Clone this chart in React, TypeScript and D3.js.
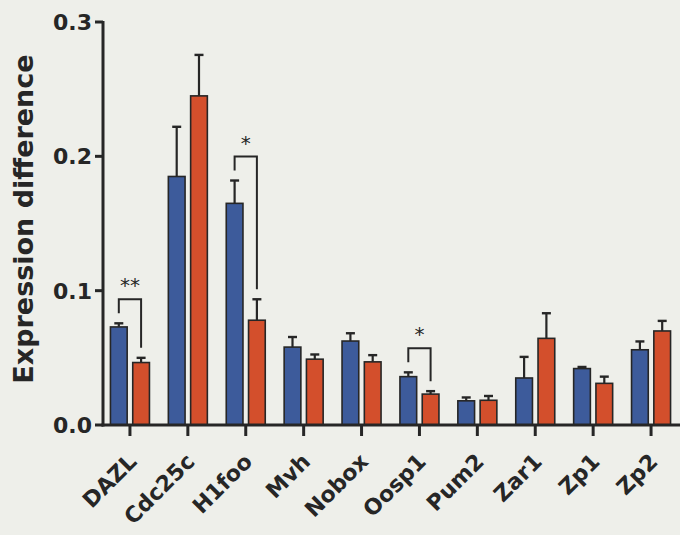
import React from 'react';
import * as d3 from 'd3';

const genes = ['DAZL', 'Cdc25c', 'H1foo', 'Mvh', 'Nobox', 'Oosp1', 'Pum2', 'Zar1', 'Zp1', 'Zp2'];
const blueMean = [0.073, 0.185, 0.165, 0.058, 0.0625, 0.036, 0.018, 0.035, 0.042, 0.056];
const blueErr = [0.0027, 0.037, 0.017, 0.0075, 0.0058, 0.0032, 0.0025, 0.0157, 0.0012, 0.0062];
const redMean = [0.0465, 0.245, 0.078, 0.049, 0.047, 0.023, 0.0184, 0.0645, 0.031, 0.070];
const redErr = [0.0035, 0.0305, 0.0156, 0.0035, 0.005, 0.0022, 0.0032, 0.0187, 0.005, 0.0075];
const yTicks = [0.0, 0.1, 0.2, 0.3];
// significance marks: gene and label
const sigGenes = ['DAZL', 'H1foo', 'Oosp1'];
const sigLabels = ['**', '*', '*'];

const W = 680;
const H = 535;
const font = '"DejaVu Sans", Verdana, sans-serif';
const ink = '#262626';

const App = () => {
    const y = d3.scaleLinear().domain([0, 0.3]).range([425, 22]);
    const x = d3.scaleBand().domain(genes).range([101, 680]).paddingInner(0).paddingOuter(0);
    const xs = d3.scaleBand().domain(['blue', 'red']).range([-19.5, 19.5]).paddingInner(0.25);
    const cx = (g) => x(g) + x.bandwidth() / 2;
    const bw = xs.bandwidth();

    const series = [
        { key: 'blue', mean: blueMean, err: blueErr, fill: '#3d5b9b' },
        { key: 'red', mean: redMean, err: redErr, fill: '#d34f2c' }
    ];

    return (
        <svg width={W} height={H} style={{ position: 'absolute', left: 0, top: 0, display: 'block' }}>
            <rect x={0} y={0} width={W} height={H} fill="#eeefea" />

            {/* y axis title */}
            <text transform="translate(33,219) rotate(-90)" textAnchor="middle"
                fontFamily={font} fontWeight="bold" fontSize={27} fill={ink}>Expression difference</text>

            {/* bars + error bars */}
            {series.map(s => (
                <g key={s.key}>
                    {genes.map((g, i) => {
                        const left = cx(g) + xs(s.key);
                        const mid = left + bw / 2;
                        return (
                            <g key={g}>
                                <line x1={mid} x2={mid} y1={y(s.mean[i])} y2={y(s.mean[i] + s.err[i])} stroke={ink} strokeWidth={2.2} />
                                <line x1={mid - 4.5} x2={mid + 4.5} y1={y(s.mean[i] + s.err[i])} y2={y(s.mean[i] + s.err[i])} stroke={ink} strokeWidth={2.4} />
                                <rect x={left} y={y(s.mean[i])} width={bw} height={y(0) - y(s.mean[i])}
                                    fill={s.fill} stroke={ink} strokeWidth={1.6} />
                            </g>
                        );
                    })}
                </g>
            ))}

            {/* significance brackets */}
            {sigGenes.map((g, k) => {
                const i = genes.indexOf(g);
                const xl = cx(g) + xs('blue') + bw / 2;
                const xr = cx(g) + xs('red') + bw / 2;
                const yl = y(blueMean[i] + blueErr[i]) - 10;
                const yr = y(redMean[i] + redErr[i]) - 10;
                const top = Math.min(yl, yr) - 14;
                return (
                    <g key={g}>
                        <path d={'M' + xl + ',' + yl + 'V' + top + 'H' + xr + 'V' + yr} fill="none" stroke={ink} strokeWidth={2} />
                        <text x={(xl + xr) / 2} y={top - 7} textAnchor="middle" fontFamily={font} fontSize={20} fill={ink}>{sigLabels[k]}</text>
                    </g>
                );
            })}

            {/* y axis */}
            <line x1={103} x2={103} y1={y(0.3) - 1} y2={y(0) + 1.5} stroke={ink} strokeWidth={3} />
            {yTicks.map(t => (
                <g key={t}>
                    <line x1={95} x2={103} y1={y(t)} y2={y(t)} stroke={ink} strokeWidth={3} />
                    <text x={92} y={y(t) + 8} textAnchor="end" fontFamily={font} fontWeight="bold" fontSize={22} fill={ink}>{d3.format('.1f')(t)}</text>
                </g>
            ))}

            {/* x axis */}
            <line x1={101.5} x2={W} y1={y(0)} y2={y(0)} stroke={ink} strokeWidth={3} />
            {genes.map(g => (
                <g key={g}>
                    <line x1={cx(g)} x2={cx(g)} y1={y(0)} y2={y(0) + 11} stroke={ink} strokeWidth={3} />
                    <text transform={'translate(' + (cx(g) + 8) + ',' + (y(0) + 38) + ') rotate(-45)'} textAnchor="end"
                        fontFamily={font} fontWeight="bold" fontSize={22} fill={ink}>{g}</text>
                </g>
            ))}
        </svg>
    );
};

export default App;
